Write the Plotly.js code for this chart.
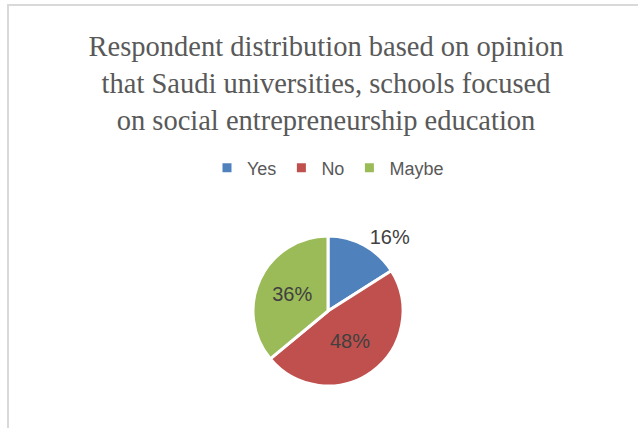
<!DOCTYPE html>
<html>
<head>
<meta charset="utf-8">
<script src="https://cdn.plot.ly/plotly-3.0.1.min.js"></script>
<style>
  html, body { margin: 0; padding: 0; background: #fff; }
  #frame { position: absolute; left: 7px; top: 4px; width: 640px; height: 430px;
           border-left: 2px solid #d9d9d9; border-top: 2px solid #d9d9d9; }
  #chart { position: absolute; left: 0; top: 0; width: 638px; height: 428px; }
</style>
</head>
<body>
<div id="frame"></div>
<div id="chart"></div>
<script>
const categories = ["Yes", "No", "Maybe"];
const values = [16, 48, 36];
const colors = ["#4f81bd", "#c0504d", "#9bbb59"];
const textPositions = ["outside", "inside", "inside"];
const titleText = "Respondent distribution based on opinion<br>that Saudi universities, schools focused<br>on social entrepreneurship education";

const W = 638, H = 428;
const cx = 328, cy = 311, r = 75;

const data = [{
  type: "pie",
  labels: categories,
  values: values,
  sort: false,
  direction: "clockwise",
  rotation: 0,
  marker: { colors: colors, line: { color: "#ffffff", width: 3 } },
  textinfo: "percent",
  texttemplate: "%{percent:.0%}",
  textposition: textPositions,
  insidetextorientation: "horizontal",
  textfont: { family: "Liberation Sans, Arial, sans-serif", size: 20, color: "#404040" },
  outsidetextfont: { family: "Liberation Sans, Arial, sans-serif", size: 20, color: "#404040" },
  domain: { x: [(cx - r) / W, (cx + r) / W], y: [(H - cy - r) / H, (H - cy + r) / H] },
  hoverinfo: "none"
}];

const layout = {
  width: W, height: H,
  margin: { l: 0, r: 0, t: 0, b: 0 },
  paper_bgcolor: "rgba(0,0,0,0)",
  plot_bgcolor: "rgba(0,0,0,0)",
  title: {
    text: titleText,
    font: { family: "Liberation Serif, Times New Roman, serif", size: 28.5, color: "#595959" },
    x: 326 / W, xanchor: "center",
    y: 1 - 56 / H, yanchor: "middle", yref: "container"
  },
  showlegend: true,
  legend: {
    orientation: "h",
    x: 328 / W, xanchor: "center",
    y: 1 - 168 / H, yanchor: "middle",
    font: { family: "Liberation Sans, Arial, sans-serif", size: 18, color: "#595959" },
    traceorder: "normal"
  },
  hovermode: false
};

Plotly.newPlot("chart", data, layout, { displayModeBar: false, staticPlot: true });
</script>
</body>
</html>
